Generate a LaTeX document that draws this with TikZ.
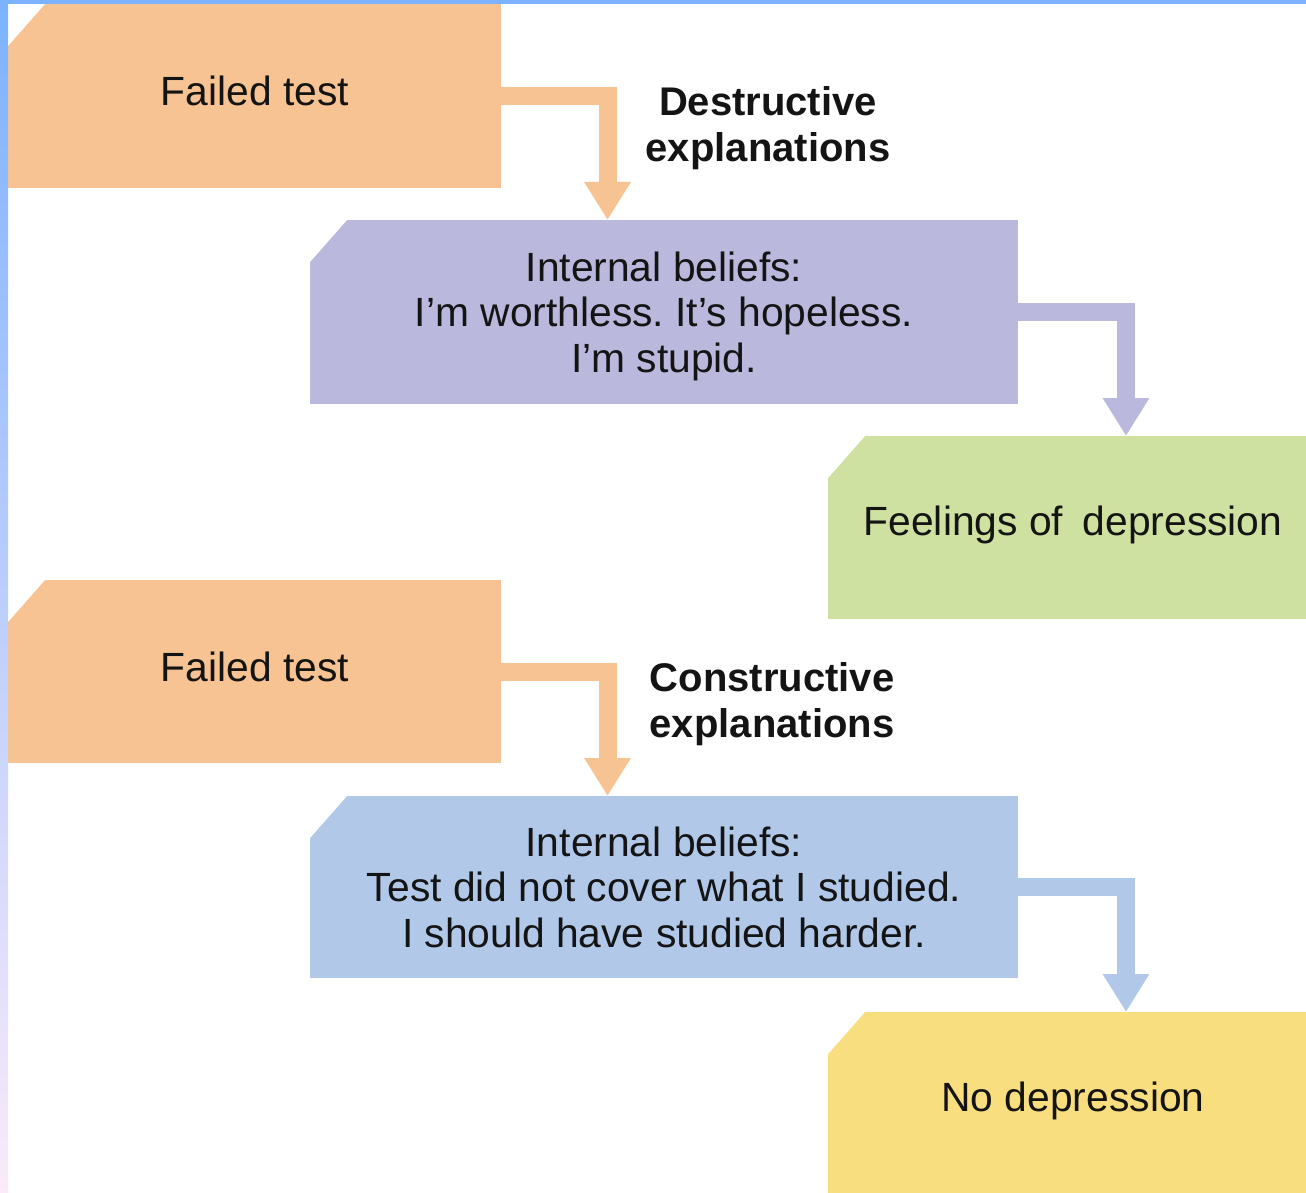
\documentclass[tikz,border=0pt]{standalone}
\usepackage{fontspec}
\setmainfont{Liberation Sans}
\usetikzlibrary{arrows.meta}
\definecolor{cOrange}{RGB}{247,195,146}
\definecolor{cPurple}{RGB}{186,184,220}
\definecolor{cGreen}{RGB}{206,225,161}
\definecolor{cBlue}{RGB}{177,200,232}
\definecolor{cYellow}{RGB}{249,222,128}
\definecolor{cTop}{RGB}{125,178,255}
\definecolor{cMid}{RGB}{182,206,250}
\definecolor{cBot}{RGB}{250,234,250}
\definecolor{cText}{RGB}{20,20,20}
\tikzset{
  box/.style={rectangle, inner sep=0pt, outer sep=0pt, draw=none,
    path picture={\fill[white] ([yshift=-42pt]path picture bounding box.north west)
       -- (path picture bounding box.north west)
       -- ([xshift=37pt]path picture bounding box.north west) -- cycle;}},
  lbl/.style={inner sep=0pt, align=center, text=cText,
    font=\fontsize{40}{46}\selectfont\bfseries},
  txt/.style={inner sep=0pt, align=center, text=cText,
    font=\fontsize{40.8}{45.5}\selectfont},
  flow/.style={line width=18pt, line cap=butt, line join=miter,
    -{Triangle[width=44pt,length=38pt]}}
}
\begin{document}
\frenchspacing
\begin{tikzpicture}[x=1pt,y=-1pt]
\path[use as bounding box] (0,0) rectangle (1306,1193);
\clip (0,0) rectangle (1306,1193);
\fill[white] (0,0) rectangle (1306,1193);

% boxes
\node[box, fill=cOrange, minimum width=493pt, minimum height=184pt] (b1) at (254.5,96) {};
\node[box, fill=cPurple, minimum width=708pt, minimum height=184pt] (b2) at (664,312) {};
\node[box, fill=cGreen, minimum width=490pt, minimum height=183pt] (b3) at (1073,527.5) {};
\node[box, fill=cOrange, minimum width=493pt, minimum height=183pt] (b4) at (254.5,671.5) {};
\node[box, fill=cBlue, minimum width=708pt, minimum height=182pt] (b5) at (664,887) {};
\node[box, fill=cYellow, minimum width=490pt, minimum height=196pt] (b6) at (1073,1110) {};

% texts
\node[txt] (t1) at (255,91) {Failed test};
\node[txt] (t2) at (664,316) {Internal beliefs:\\I’m worthless. It’s hopeless.\\I’m stupid.};
\node[txt] (t3) at (1073,524.5) {Feelings of\hspace{0.2em} depression};
\node[txt] (t4) at (255,666.5) {Failed test};
\node[txt] (t5) at (664,887) {Internal beliefs:\\Test did not cover what I studied.\\I should have studied harder.};
\node[txt] (t6) at (1073,1101) {No depression};

% labels
\node[lbl] (l1) at (768,128.5) {Destructive\\explanations};
\node[lbl] (l2) at (772,704) {Constructive\\explanations};

% connectors
\draw[flow, draw=cOrange] (b1.east) -| ([xshift=297.5pt]b2.north west);
\draw[flow, draw=cPurple] (b2.east) -| ([xshift=298pt]b3.north west);
\draw[flow, draw=cOrange] (b4.east) -| ([xshift=297.5pt]b5.north west);
\draw[flow, draw=cBlue] (b5.east) -| ([xshift=298pt]b6.north west);

% frame
\shade[top color=cTop, middle color=cMid, bottom color=cBot] (0,0) rectangle (8,1193);
\fill[cTop] (0,0) rectangle (1306,4);
\end{tikzpicture}
\end{document}
